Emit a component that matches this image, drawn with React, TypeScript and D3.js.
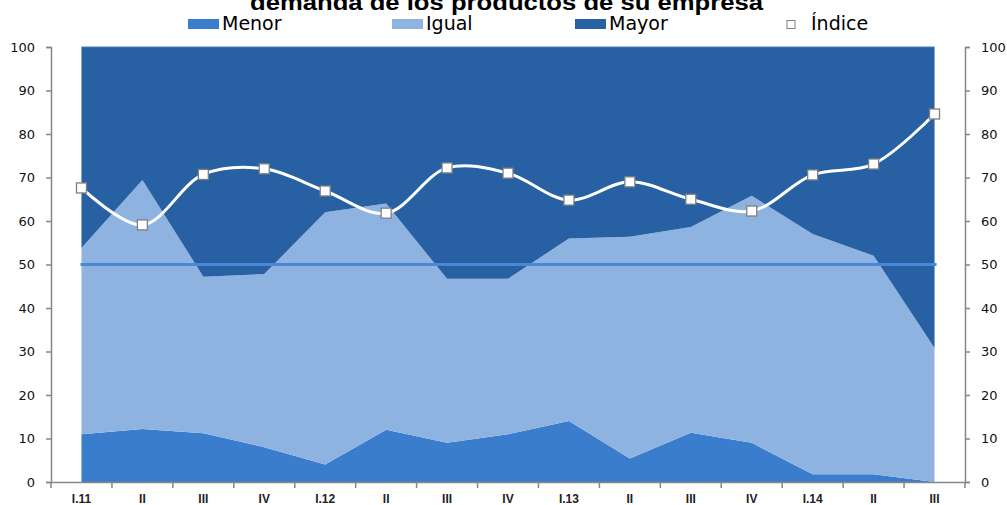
import React, { useRef, useEffect } from 'react';
import * as d3 from 'd3';

const categories = ['I.11', 'II', 'III', 'IV', 'I.12', 'II', 'III', 'IV', 'I.13', 'II', 'III', 'IV', 'I.14', 'II', 'III'];
const menor = [11, 12.2, 11.2, 8, 4, 12, 9, 11, 14, 5.4, 11.3, 9, 1.8, 1.8, 0];
const igual = [42.8, 57.2, 36, 39.8, 58, 52, 37.7, 35.7, 42, 51, 47.3, 56.8, 55.2, 50.2, 30.8];
const mayor = [46.2, 30.6, 52.8, 52.2, 38, 36, 53.3, 53.3, 44, 43.6, 41.4, 34.2, 43, 48, 69.2];
const indice = [67.6, 59.1, 70.7, 72, 66.9, 61.8, 72.2, 71, 64.8, 69, 65, 62.3, 70.6, 73.1, 84.6];
const yTicks = [0, 10, 20, 30, 40, 50, 60, 70, 80, 90, 100];

const App = () => {
    const ref = useRef<SVGSVGElement>(null);

    useEffect(() => {
        const width = 1007;
        const height = 505;
        const left = 51, right = 965, top = 47, bottom = 482;

        const svg = d3.select(ref.current).attr('width', width).attr('height', height);
        svg.selectAll('*').remove();

        const xb = d3.scaleBand<number>().domain(d3.range(categories.length)).range([left, right]);
        const cx = (i: number) => (xb(i) as number) + xb.bandwidth() / 2;
        const y = d3.scaleLinear().domain([0, 100]).range([bottom, top]);

        const rows = categories.map((c, i) => ({ i, Menor: menor[i], Igual: igual[i], Mayor: mayor[i] }));
        const stack = d3.stack<any>().keys(['Menor', 'Igual', 'Mayor'])(rows);
        const colors: Record<string, string> = { Menor: '#3A7DCC', Igual: '#8EB3E1', Mayor: '#2861A3' };

        const area = d3.area<any>()
            .x(d => cx(d.data.i))
            .y0(d => y(d[0]))
            .y1(d => y(d[1]));

        svg.append('g').selectAll('path').data(stack).join('path')
            .attr('d', d => area(d as any) as string)
            .attr('fill', d => colors[d.key]);

        // top edge of plot
        svg.append('line')
            .attr('x1', cx(0)).attr('x2', cx(categories.length - 1))
            .attr('y1', y(100)).attr('y2', y(100))
            .attr('stroke', '#4B7FC0').attr('stroke-width', 1);

        // 50 reference line
        svg.append('line')
            .attr('x1', cx(0) - 1).attr('x2', cx(categories.length - 1) + 2)
            .attr('y1', y(50)).attr('y2', y(50))
            .attr('stroke', '#4A88D6').attr('stroke-width', 3);

        // index line
        const line = d3.line<number>()
            .x((d, i) => cx(i))
            .y(d => y(d))
            .curve(d3.curveCatmullRom.alpha(0.5));
        svg.append('path')
            .attr('d', line(indice) as string)
            .attr('fill', 'none').attr('stroke', '#fff').attr('stroke-width', 3);

        svg.append('g').selectAll('rect').data(indice).join('rect')
            .attr('x', (d, i) => cx(i) - 5).attr('y', d => y(d) - 5)
            .attr('width', 10).attr('height', 10)
            .attr('fill', '#fff').attr('stroke', '#7f7f7f').attr('stroke-width', 1.3);

        // axes
        const axisColor = '#868686';
        const font = 'DejaVu Sans, sans-serif';

        const yl = svg.append('g').attr('transform', `translate(${left},0)`)
            .call(d3.axisLeft(y).tickValues(yTicks).tickSize(5).tickPadding(11));
        const yr = svg.append('g').attr('transform', `translate(${right},0)`)
            .call(d3.axisRight(y).tickValues(yTicks).tickSize(5).tickPadding(11));
        const xa = svg.append('g').attr('transform', `translate(0,${bottom})`)
            .call(d3.axisBottom(xb).tickFormat(i => categories[i as number]).tickSize(0).tickPadding(12));

        [yl, yr, xa].forEach(g => {
            g.select('.domain').attr('stroke', axisColor).attr('stroke-width', 1.5);
            g.selectAll('.tick line').attr('stroke', axisColor).attr('stroke-width', 1.5);
            g.selectAll('.tick text').attr('fill', '#111').attr('font-family', font).attr('font-size', 13);
        });
        xa.selectAll('.tick text').attr('font-family', 'Liberation Sans, Arial, sans-serif')
            .attr('font-size', 12).attr('font-weight', 'bold').attr('fill', '#222');

        // x tick marks at band boundaries
        svg.append('g').selectAll('line').data(d3.range(categories.length + 1)).join('line')
            .attr('x1', i => left + i * xb.bandwidth()).attr('x2', i => left + i * xb.bandwidth())
            .attr('y1', bottom).attr('y2', bottom + 6)
            .attr('stroke', axisColor).attr('stroke-width', 1.5);

        // title (partly cut off at the top, like the reference)
        svg.append('text')
            .attr('x', 250).attr('y', 10)
            .attr('textLength', 513).attr('lengthAdjust', 'spacingAndGlyphs')
            .attr('font-family', 'Liberation Sans, Arial, sans-serif').attr('font-weight', 'bold').attr('font-size', 22)
            .attr('fill', '#000')
            .text('demanda de los productos de su empresa');

        // legend
        const legend = [
            { name: 'Menor', x: 188, color: colors.Menor },
            { name: 'Igual', x: 392, color: colors.Igual },
            { name: 'Mayor', x: 575, color: colors.Mayor },
        ];
        const lg = svg.append('g');
        legend.forEach(l => {
            lg.append('rect').attr('x', l.x).attr('y', 19).attr('width', 31).attr('height', 10).attr('fill', l.color);
            lg.append('text').attr('x', l.x + 34).attr('y', 30)
                .attr('font-family', font).attr('font-size', 19).attr('fill', '#000').text(l.name);
        });
        lg.append('rect').attr('x', 787).attr('y', 20.5).attr('width', 8).attr('height', 8)
            .attr('fill', '#fff').attr('stroke', '#7f7f7f').attr('stroke-width', 1);
        lg.append('text').attr('x', 811).attr('y', 30)
            .attr('font-family', font).attr('font-size', 19).attr('fill', '#000').text('Índice');
    }, []);

    return (
        <svg ref={ref} style={{ position: 'absolute', left: 0, top: 0, display: 'block' }}></svg>
    );
};

export default App;
